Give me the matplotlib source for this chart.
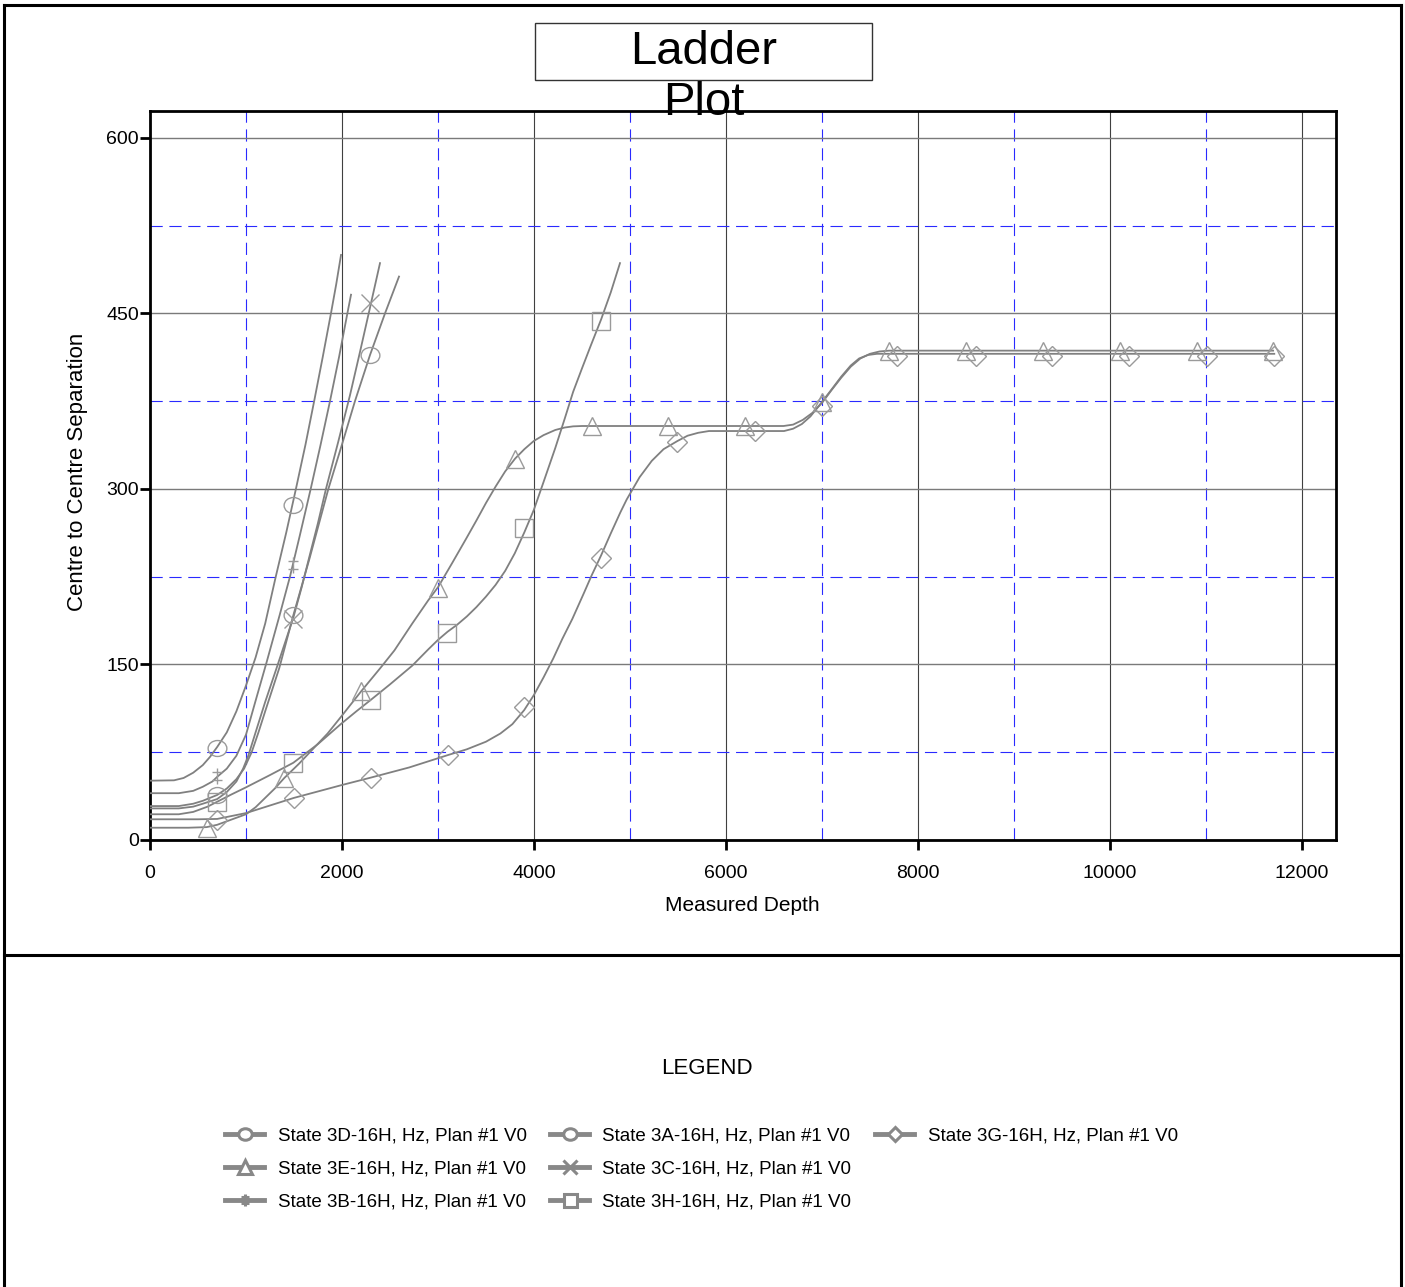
import matplotlib
matplotlib.use('Agg')
import matplotlib.pyplot as plt
from matplotlib.path import Path
from matplotlib.lines import Line2D
from matplotlib.patches import Rectangle

plt.rcParams['font.family'] = ['Liberation Sans', 'DejaVu Sans']

# ---- data (measured depth, centre to centre separation) ----
md_3d = [0, 250, 350, 450, 550, 625, 700, 800, 900, 1000, 1100, 1200, 1310, 1420, 1520,
         1620, 1710, 1800, 1885, 1940, 1990]
sep_3d = [50.7, 51, 53, 57.5, 64, 71, 79.5, 92, 110, 132, 156, 185, 225, 263, 300,
          338, 375, 413, 450, 475, 500]
mk_md_3d = [700, 1490]
mk_sep_3d = [79, 286]

md_3b = [0, 300, 450, 550, 650, 700, 800, 900, 1000, 1100, 1215, 1350, 1458, 1560, 1674,
         1775, 1875, 1970, 2056, 2094]
sep_3b = [40, 40, 42, 45.5, 50, 54, 61, 72, 90, 119, 152, 192, 225, 260, 300,
          337, 375, 413, 450, 466]
mk_md_3b = [700, 1493]
mk_sep_3b = [55, 235]

md_3a = [0, 300, 450, 550, 700, 800, 900, 980, 1059, 1130, 1200, 1347, 1493, 1660, 1858,
         2000, 2135, 2292, 2448, 2594]
sep_3a = [29, 29, 31, 33.5, 38.5, 44, 52, 61, 75, 92, 110, 147, 192, 240, 300,
          338, 375, 414.5, 450, 481.5]
mk_md_3a = [700, 1493, 2292]
mk_sep_3a = [38.5, 192, 414.5]

md_3c = [0, 300, 450, 550, 700, 800, 900, 970, 1024, 1100, 1200, 1319, 1400, 1493, 1580,
         1660, 1750, 1833, 1960, 2083, 2190, 2292, 2396]
sep_3c = [27, 27, 28.5, 31, 35, 41, 50, 61, 72, 92, 118, 147, 167, 190, 216,
          242, 271, 300, 340, 380, 418, 455, 493]
mk_md_3c = [1493, 2292]
mk_sep_3c = [189, 459]

md_3h = [0, 300, 450, 600, 700, 850, 1000, 1250, 1493, 1750, 1987, 2150, 2304, 2500, 2732,
         2900, 3000, 3100, 3200, 3300, 3400, 3500, 3600, 3700, 3800, 3900, 3998, 4100, 4222,
         4320, 4408, 4500, 4594, 4700, 4800, 4896]
sep_3h = [22, 22, 24, 28.5, 32.7, 39, 45, 55.5, 66, 82, 99, 110, 120, 133, 149,
          163, 171, 178, 184, 191, 199, 208, 218, 230, 245, 263, 282, 306, 335,
          360, 383, 403, 423, 445, 468, 493]
mk_md_3h = [700, 1493, 2304, 3097, 3894, 4698]
mk_sep_3h = [32.7, 66, 120, 177, 266.4, 443.4]

md_3e = [0, 400, 590, 700, 800, 900, 1000, 1100, 1200, 1300, 1399, 1550, 1700, 1850, 1987,
         2199, 2400, 2546, 2732, 2900, 3000, 3150, 3290, 3400, 3500, 3600, 3700, 3804, 3900,
         3998, 4100, 4222, 4320, 4408, 4500, 6600, 6700, 6800, 6900, 7000, 7100, 7200, 7300,
         7400, 7500, 7600, 7700, 11700]
sep_3e = [10.5, 10.5, 11, 13, 16, 19, 22, 28, 36, 44, 53, 65, 78, 91, 105,
          127, 147, 162, 185, 205, 216, 237, 257, 273, 288, 302, 315, 326, 334,
          341, 346, 350.4, 352.5, 353.5, 353.8, 353.8, 355, 359, 365, 373.5, 384.5, 395, 404.5,
          411.5, 415.5, 417.5, 418.2, 418.2]
mk_md_3e = [590, 1399, 2199, 3000, 3804, 4601, 5395, 6196, 7000, 7700, 8500, 9300,
            10104, 10903, 11694]
mk_sep_3e = [10, 52.7, 127, 215, 326, 354, 354, 354, 374, 418, 418, 418, 418, 418, 418]

md_3g = [0, 500, 700, 1000, 1500, 2000, 2304, 2700, 3104, 3300, 3500, 3650, 3775, 3898,
         4000, 4100, 4200, 4296, 4400, 4520, 4600, 4698, 4800, 4900, 4966, 5100, 5227, 5350,
         5495, 5600, 5711, 5823, 6605, 6700, 6791, 6880, 6978, 7100, 7201, 7300, 7387, 7480,
         7574, 7750, 11712]
sep_3g = [17.7, 17.7, 18, 23, 36, 47, 53.4, 62, 72.6, 77.5, 84, 91, 99, 111,
          124, 139, 155, 172, 189, 211, 226, 243, 262, 280, 291, 310, 324, 334,
          341, 345.5, 348, 349.5, 349.5, 351.5, 355.5, 362, 372, 385, 396, 405.5, 411.5, 414.5,
          415.5, 415.5, 415.5]
mk_md_3g = [700, 1500, 2304, 3104, 3898, 4698, 5495, 6300, 7000, 7778, 8600, 9400,
            10201, 11007, 11712]
mk_sep_3g = [17, 36, 53.4, 72.6, 114, 241, 340.5, 349.5, 370.5, 414, 414, 414, 414, 414, 414]

labels = ['State 3D-16H, Hz, Plan #1 V0', 'State 3A-16H, Hz, Plan #1 V0',
          'State 3G-16H, Hz, Plan #1 V0', 'State 3E-16H, Hz, Plan #1 V0',
          'State 3C-16H, Hz, Plan #1 V0', 'State 3B-16H, Hz, Plan #1 V0',
          'State 3H-16H, Hz, Plan #1 V0']

# ---- marker shapes ----
circ = Path.unit_circle()
ellipse = Path(circ.vertices * [1.0, 0.85], circ.codes)
dbl_plus = Path([(0, -1), (0, 1), (-0.6, 0.45), (0.6, 0.45), (-0.6, -0.45), (0.6, -0.45)],
                [Path.MOVETO, Path.LINETO, Path.MOVETO, Path.LINETO, Path.MOVETO, Path.LINETO])

LINE = '#808080'
MEC = '#9a9a9a'

series = [
    (md_3d, sep_3d, mk_md_3d, mk_sep_3d, ellipse, 13.5),
    (md_3a, sep_3a, mk_md_3a, mk_sep_3a, ellipse, 13.5),
    (md_3g, sep_3g, mk_md_3g, mk_sep_3g, 'D', 9.8),
    (md_3e, sep_3e, mk_md_3e, mk_sep_3e, '^', 13.5),
    (md_3c, sep_3c, mk_md_3c, mk_sep_3c, 'x', 13.5),
    (md_3b, sep_3b, mk_md_3b, mk_sep_3b, dbl_plus, 12),
    (md_3h, sep_3h, mk_md_3h, mk_sep_3h, 's', 13),
]

fig = plt.figure(figsize=(14.05, 12.87), dpi=100)
ax = fig.add_axes([150 / 1405, 1 - 840 / 1287, 1186 / 1405, 729 / 1287])

for md, sep, mmd, msep, mk, ms in series:
    ax.plot(md, sep, color=LINE, lw=1.3, zorder=3, solid_joinstyle='round')
    ax.plot(mmd, msep, ls='none', marker=mk, ms=ms, mfc='none', mec=MEC, mew=1.0, zorder=4)

ax.set_xlim(0, 12355)
ax.set_ylim(0, 623)
ax.set_xticks(range(0, 12001, 2000))
ax.set_yticks([0, 150, 300, 450, 600])
ax.set_xticks(range(1000, 12001, 2000), minor=True)
ax.set_yticks([75, 225, 375, 525], minor=True)

ax.grid(which='major', axis='x', color='#404040', lw=0.8, zorder=1)
ax.grid(which='major', axis='y', color='#7a7a7a', lw=1.0, zorder=1)
ax.grid(which='minor', color='#2a2aff', lw=0.8, linestyle=(0, (11, 6)), zorder=1)
ax.set_axisbelow(True)

for s in ax.spines.values():
    s.set_linewidth(2.0)
ax.tick_params(which='major', direction='out', length=7, width=2.0, labelsize=14)
ax.tick_params(axis='x', which='major', pad=11)
ax.tick_params(axis='y', which='major', pad=1)
ax.tick_params(which='minor', length=0)

ax.set_xlabel('Measured Depth', fontsize=15)
ax.set_ylabel('Centre to Centre Separation', fontsize=16)
ax.xaxis.set_label_coords(0.499, -0.077)
ax.yaxis.set_label_coords(-0.052, 0.505)

# ---- title box ----
fig.add_artist(Rectangle((535 / 1405, 1 - 80 / 1287), 337 / 1405, 57 / 1287,
                         transform=fig.transFigure, fill=False, ec='#333333', lw=1.0))
fig.text(0.5007, 1 - 52 / 1287, 'Ladder', fontsize=34, ha='center', va='center')
fig.text(0.5007, 1 - 103 / 1287, 'Plot', fontsize=34, ha='center', va='center', zorder=10)

# ---- frame lines ----
fw = 2.2
fig.add_artist(Line2D([4 / 1405, 4 / 1405], [0, 1 - 5 / 1287], transform=fig.transFigure, color='black', lw=fw))
fig.add_artist(Line2D([1401 / 1405, 1401 / 1405], [0, 1 - 5 / 1287], transform=fig.transFigure, color='black', lw=fw))
fig.add_artist(Line2D([4 / 1405, 1401 / 1405], [1 - 5 / 1287, 1 - 5 / 1287], transform=fig.transFigure, color='black', lw=fw))
fig.add_artist(Line2D([4 / 1405, 1401 / 1405], [1 - 955 / 1287, 1 - 955 / 1287], transform=fig.transFigure, color='black', lw=fw))

# ---- legend ----
fig.text(707 / 1405, 1 - 1068 / 1287, 'LEGEND', fontsize=16, ha='center', va='center')

handles = []
for md, sep, mmd, msep, mk, ms in series:
    hs = ms * 0.72
    handles.append(Line2D([], [], color='#888888', lw=3.5, marker=mk, ms=hs,
                          mfc='white', mec='#888888', mew=2.2))

cols = [[0, 3, 5], [1, 4, 6], [2]]
col_x = [225, 550, 875]
for idx, cx in zip(cols, col_x):
    fig.legend([handles[i] for i in idx], [labels[i] for i in idx],
               loc='upper left', bbox_to_anchor=(cx / 1405, 1 - 1127 / 1287),
               frameon=False, fontsize=13.5, borderpad=0, borderaxespad=0,
               handlelength=2.1, handletextpad=0.7, labelspacing=0.86)

fig.savefig('out.png', dpi=100)
